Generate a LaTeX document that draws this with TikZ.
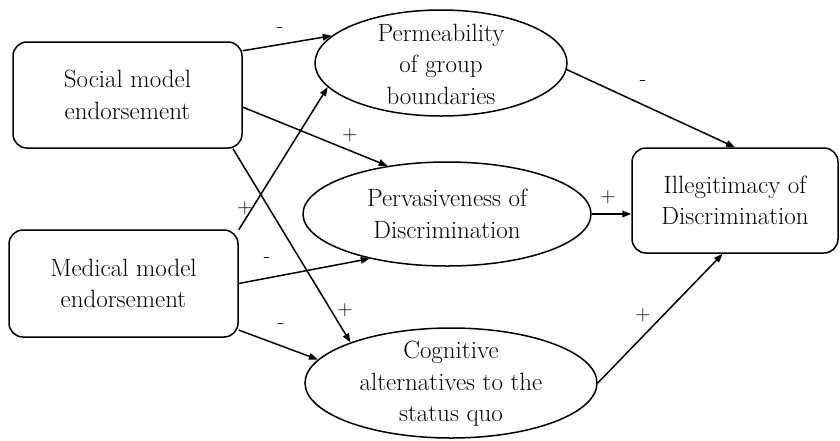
\documentclass[tikz,border=0pt]{standalone}
\usepackage{fontspec}
\usetikzlibrary{arrows.meta,shapes.geometric,calc}
\begin{document}
\begin{tikzpicture}[x=1pt,y=-1pt,
  txtfont/.style={font=\rmfamily\fontsize{25}{31.5}\selectfont},
  box/.style={draw,line width=1.5pt,rounded corners=14pt,align=center,inner sep=0pt,txtfont},
  ell/.style={draw,ellipse,line width=1.5pt,inner sep=0pt},
  etxt/.style={align=center,inner sep=0pt,txtfont},
  arr/.style={-{Triangle[length=9pt,width=6.5pt]},line width=1.5pt},
  lab/.style={font=\rmfamily\fontsize{21}{21}\selectfont,inner sep=0pt}]
\useasboundingbox (0,0) rectangle (840,440);

% boxes
\node[box,minimum width=229pt,minimum height=106pt] (soc) at (127.5,95) {Social model\\endorsement};
\node[box,minimum width=229pt,minimum height=107pt] (med) at (123.5,283.5) {Medical model\\endorsement};
\node[box,minimum width=206pt,minimum height=105pt] (ill) at (735,200.5) {Illegitimacy of\\Discrimination};

% ellipses
\node[ell,minimum width=252pt,minimum height=106pt] (perm) at (441,63) {};
\node[etxt] (permt) at (441,64) {Permeability\\of group\\boundaries};
\node[ell,minimum width=288pt,minimum height=104pt] (perv) at (447,214) {};
\node[etxt] (pervt) at (447,214) {Pervasiveness of\\Discrimination};
\node[ell,minimum width=292pt,minimum height=110pt] (cog) at (451,383) {};
\node[etxt] (cogt) at (451,384) {Cognitive\\alternatives to the\\status quo};

% connectors
\draw[arr] (soc.21) -- (perm.166);
\draw[arr] (soc.-6) -- (perv.141);
\draw[arr] (soc.-27) -- (cog.158);
\draw[arr] (med.25) -- (perm.192);
\draw[arr] (med.east) -- (perv.210);
\draw[arr] (med.-22) -- (cog.170);
\draw[arr] (perm.-3) -- (ill.north);
\draw[arr] (perv.east) -- (perv.east -| ill.west);
\draw[arr] (cog.east) -- (ill.-103);

% labels
\node[lab] (l1) at (280,30) {-};
\node[lab] (l2) at (350,135) {+};
\node[lab] (l3) at (245,208) {+};
\node[lab] (l4) at (345,310) {+};
\node[lab] (l5) at (267,260) {-};
\node[lab] (l6) at (281,326) {-};
\node[lab] (l7) at (643,83) {-};
\node[lab] (l8) at (608,197) {+};
\node[lab] (l9) at (643,315) {+};
\end{tikzpicture}
\end{document}
